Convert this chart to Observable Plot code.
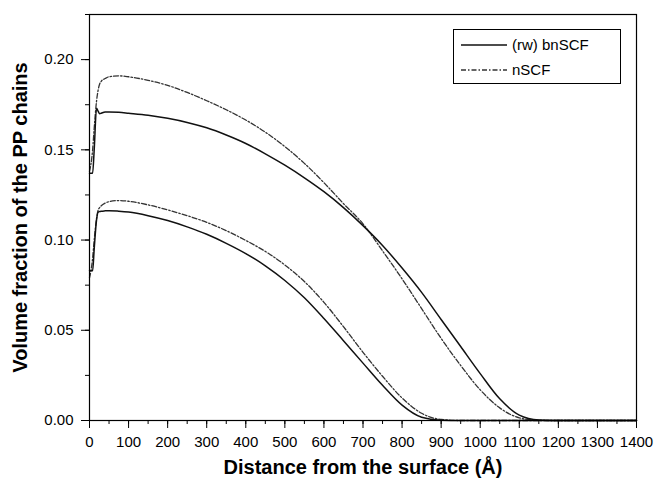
<!DOCTYPE html>
<html>
<head>
<meta charset="utf-8">
<script src="https://cdn.jsdelivr.net/npm/d3@7"></script>
<script src="https://cdn.jsdelivr.net/npm/@observablehq/plot@0.6"></script>
<style>
  html, body { margin: 0; padding: 0; background: #fff; }
  #wrap { position: relative; width: 656px; height: 482px; font-family: "Liberation Sans", Arial, sans-serif; }
  #legend { position: absolute; left: 453px; top: 29px; width: 166px; height: 53px; border: 1px solid #000; background: #fff; }
</style>
</head>
<body>
<div id="wrap"></div>
<script>
// Distance from the surface (Å)
const distance = [0, 8, 12, 18, 22, 26, 30, 40, 50, 75, 100, 150, 200, 250, 300, 350, 400, 450, 500, 550, 600, 650, 700, 750, 800, 850, 900, 950, 1000, 1050, 1100, 1150, 1200, 1300, 1400];
// (rw) bnSCF, upper and lower profiles
const bnUpper = [0.137, 0.137, 0.150, 0.173, 0.1715, 0.1700, 0.1703, 0.1710, 0.1710, 0.1708, 0.1703, 0.1692, 0.1675, 0.1652, 0.1622, 0.1582, 0.1535, 0.1478, 0.1415, 0.1345, 0.1268, 0.1180, 0.1080, 0.0970, 0.0845, 0.0710, 0.0560, 0.0410, 0.0260, 0.0120, 0.0030, 0.0003, 0, 0, 0];
const bnLower = [0.083, 0.083, 0.095, 0.111, 0.1154, 0.1158, 0.1160, 0.1162, 0.1163, 0.1160, 0.1155, 0.1135, 0.1108, 0.1073, 0.1032, 0.0982, 0.0925, 0.0857, 0.0776, 0.0680, 0.0565, 0.0442, 0.0318, 0.0195, 0.0085, 0.0018, 0.0002, 0, 0, 0, 0, 0, 0, 0, 0];
// nSCF, upper and lower profiles
const nUpper = [0.138, 0.150, 0.162, 0.177, 0.183, 0.1865, 0.188, 0.1895, 0.1905, 0.1910, 0.1905, 0.1885, 0.1857, 0.1818, 0.1772, 0.1722, 0.1665, 0.1598, 0.1518, 0.1425, 0.1318, 0.1202, 0.1090, 0.0940, 0.0785, 0.0620, 0.0455, 0.0305, 0.0170, 0.0070, 0.0015, 0.0001, 0, 0, 0];
const nLower = [0.079, 0.090, 0.100, 0.112, 0.1165, 0.118, 0.119, 0.1205, 0.1213, 0.1219, 0.1215, 0.1195, 0.1167, 0.1135, 0.1098, 0.1052, 0.0998, 0.0937, 0.0862, 0.0770, 0.0655, 0.0520, 0.0378, 0.0245, 0.0125, 0.0040, 0.0006, 0, 0, 0, 0, 0, 0, 0, 0];

const seriesNames = ["(rw) bnSCF", "nSCF"];
const xMajor = d3.range(0, 1401, 100);
const xMinor = d3.range(0, 1401, 50);
const yMajor = [0, 0.05, 0.10, 0.15, 0.20];
const yMinor = d3.range(0, 0.2251, 0.025);
const xTitle = "Distance from the surface (Å)";
const yTitle = "Volume fraction of the PP chains";

const mk = (vals) => distance.map((d, i) => ({x: d, y: vals[i]}));
const solidStyle = {x: "x", y: "y", stroke: "#111", strokeWidth: 1.5, curve: "monotone-x"};
const dashStyle = {x: "x", y: "y", stroke: "#333", strokeWidth: 1.3, strokeDasharray: "5,2,1.5,2", curve: "monotone-x"};

const chart = Plot.plot({
  width: 656,
  height: 482,
  marginLeft: 89,
  marginRight: 20,
  marginTop: 14,
  marginBottom: 62,
  style: {fontFamily: "'Liberation Sans', Arial, sans-serif", fontSize: "15px", background: "#fff", color: "#000"},
  x: {domain: [0, 1400]},
  y: {domain: [0, 0.225]},
  marks: [
    Plot.axisX({ticks: xMinor, tickSize: 4, tickFormat: () => "", label: null, stroke: "#000"}),
    Plot.axisX({ticks: xMajor, tickSize: 8, tickPadding: 8, tickFormat: d => String(d), fontSize: 15, label: null, stroke: "#000"}),
    Plot.axisY({ticks: yMinor, tickSize: 4, tickFormat: () => "", label: null, stroke: "#000"}),
    Plot.axisY({ticks: yMajor, tickSize: 8, tickPadding: 8, tickFormat: d3.format(".2f"), fontSize: 15, label: null, stroke: "#000"}),
    Plot.line(mk(nUpper), dashStyle),
    Plot.line(mk(nLower), dashStyle),
    Plot.line(mk(bnUpper), solidStyle),
    Plot.line(mk(bnLower), solidStyle),
    Plot.frame({stroke: "#000", strokeWidth: 1.2}),
    Plot.text([xTitle], {frameAnchor: "bottom", dy: 53, fontWeight: "bold", fontSize: 20, fill: "#000"}),
    Plot.text([yTitle], {frameAnchor: "left", textAnchor: "middle", dx: -69, rotate: -90, fontWeight: "bold", fontSize: 20, fill: "#000"})
  ]
});

const wrap = document.getElementById("wrap");
wrap.appendChild(chart);

const legend = document.createElement("div");
legend.id = "legend";
const ns = "http://www.w3.org/2000/svg";
const lsvg = document.createElementNS(ns, "svg");
lsvg.setAttribute("width", 166);
lsvg.setAttribute("height", 53);
const styles = [solidStyle, dashStyle];
seriesNames.forEach((name, i) => {
  const yy = 15 + i * 25;
  const ln = document.createElementNS(ns, "line");
  ln.setAttribute("x1", 7); ln.setAttribute("x2", 53);
  ln.setAttribute("y1", yy); ln.setAttribute("y2", yy);
  ln.setAttribute("stroke", styles[i].stroke);
  ln.setAttribute("stroke-width", styles[i].strokeWidth);
  if (styles[i].strokeDasharray) ln.setAttribute("stroke-dasharray", styles[i].strokeDasharray);
  lsvg.appendChild(ln);
  const t = document.createElementNS(ns, "text");
  t.setAttribute("x", 58); t.setAttribute("y", yy + 5);
  t.setAttribute("font-size", 15);
  t.setAttribute("font-family", "'Liberation Sans', Arial, sans-serif");
  t.textContent = name;
  lsvg.appendChild(t);
});
legend.appendChild(lsvg);
wrap.appendChild(legend);
</script>
</body>
</html>
